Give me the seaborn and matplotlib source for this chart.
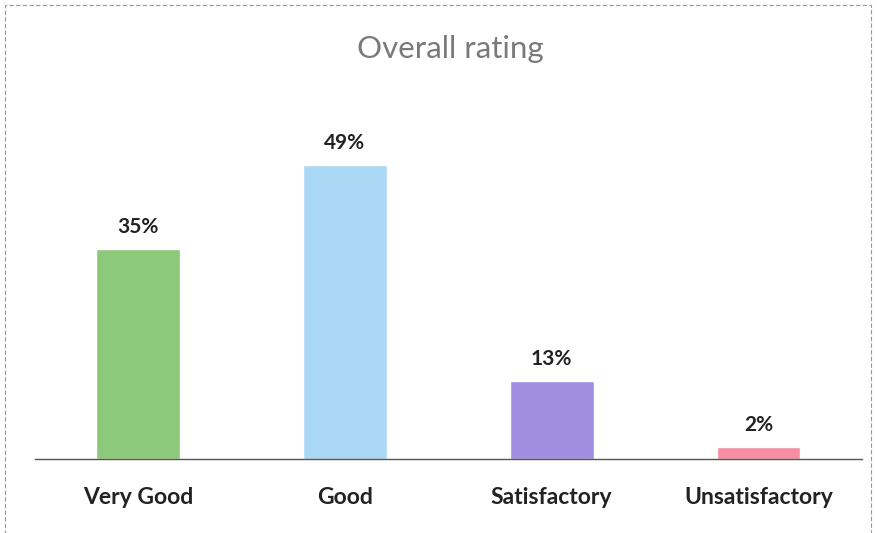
import pandas as pd
import matplotlib.pyplot as plt
import seaborn as sns
from matplotlib.patches import Rectangle

categories = ["Very Good", "Good", "Satisfactory", "Unsatisfactory"]
percentages = [35, 49, 13, 2]
bar_colors = ["#8dc97b", "#aad8f5", "#a18ee0", "#f58ea2"]

sns.set_style("white")
plt.rcParams['font.family'] = ['Lato', 'DejaVu Sans']

df = pd.DataFrame({"rating": categories, "pct": percentages})

fig = plt.figure(figsize=(8.78, 5.33), dpi=100)
ax = fig.add_axes([0.0393, 0.1388, 0.9425, 0.6754])

sns.barplot(data=df, x="rating", y="pct", hue="rating", palette=bar_colors,
            order=categories, legend=False, width=0.405, saturation=1, ax=ax)

for i, v in enumerate(percentages):
    ax.text(i, v + 2.0, f"{v}%", ha="center", va="bottom",
            fontsize=15, fontweight="bold", color="#222222")

ax.set_xlim(-0.5, 3.5)
ax.set_ylim(0, 60)
ax.set_yticks([])
ax.set_xlabel("")
ax.set_ylabel("")
ax.tick_params(axis="x", length=0, pad=20)
for lbl in ax.get_xticklabels():
    lbl.set_fontsize(16.5)
    lbl.set_fontweight("bold")
    lbl.set_color("#222222")
for s in ["top", "left", "right"]:
    ax.spines[s].set_visible(False)
ax.spines["bottom"].set_color("#555555")
ax.spines["bottom"].set_linewidth(1.0)

fig.text(0.513, 0.908, "Overall rating", ha="center", va="center",
         fontsize=22.5, color="#7a7a7a")

# scanned frame around the chart
fig.patches.append(Rectangle((0.006, -0.01), 0.986, 1.0, transform=fig.transFigure,
                             fill=False, edgecolor="#999999", linewidth=0.8,
                             linestyle=(0, (4, 2))))

plt.savefig("out.png", dpi=100)
plt.close()
